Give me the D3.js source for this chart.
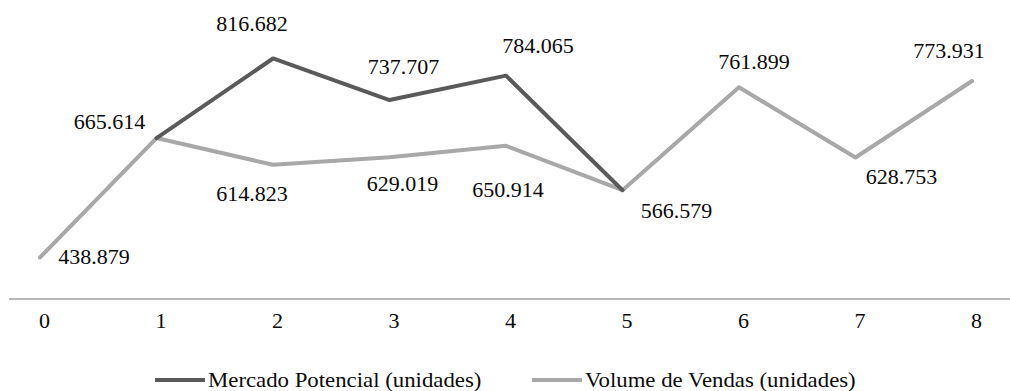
<!DOCTYPE html>
<html>
<head>
<meta charset="utf-8">
<script src="https://cdn.jsdelivr.net/npm/d3@7/dist/d3.min.js"></script>
<style>
  html, body { margin: 0; padding: 0; background: #fff; }
  svg { display: block; }
  text { font-family: "Liberation Serif", "Times New Roman", serif; fill: #0a0a0a; }
</style>
</head>
<body>
<svg id="chart" width="1010" height="391"></svg>
<script>
// Periods on the x axis
const categories = ["0", "1", "2", "3", "4", "5", "6", "7", "8"];

// Series values (units); null where a series has no value
const mercadoPotencial = [null, 665614, 816682, 737707, 784065, 566579, null, null, null];
const volumeVendas = [438879, 665614, 614823, 629019, 650914, 566579, 761899, 628753, 773931];

const seriesNames = ["Mercado Potencial (unidades)", "Volume de Vendas (unidades)"];

// Label offsets from each point (dx, dy of the label centre); null = no label
const mercadoLabelOffsets = [null, null, [-21, -34], [14, -33], [32, -30], null, null, null, null];
const volumeLabelOffsets = [[54, 0], [-47, -16], [-21, 29], [13, 27], [2, 44], [54, 21], [15, -25], [46, 20], [-23, -30]];

const W = 1010, H = 391;
const svg = d3.select("#chart");

// Brazilian number formatting: "." as thousands separator
const ptBR = d3.formatLocale({ decimal: ",", thousands: ".", grouping: [3], currency: ["R$", ""] });
const fmt = ptBR.format(",d");

const TEXT_SCALE_X = 1.1;
const LEGEND_SCALE_X = 1.14;
const FONT_SIZE = 20;

const x = d3.scalePoint().domain(categories).range([40, 972]);
const y = d3.scaleLinear().domain([360000, 900000]).range([299, 14.6]);

// Category axis
const axisG = svg.append("g").attr("transform", "translate(0,299)");
axisG.append("line")
  .attr("x1", 9).attr("x2", W)
  .attr("y1", 0).attr("y2", 0)
  .attr("stroke", "#a0a0a0").attr("stroke-width", 1.5);

const axis = d3.axisBottom(x).tickSize(0).tickPadding(0);
const axisInner = axisG.append("g").call(axis);
axisInner.select(".domain").remove();
axisInner.selectAll(".tick text")
  .attr("y", 29)
  .attr("dy", null)
  .attr("font-size", FONT_SIZE)
  .attr("font-family", "Liberation Serif, serif")
  .attr("fill", "#0a0a0a")
  .attr("transform", "translate(4,0) scale(" + TEXT_SCALE_X + ",1)");

// Lines
const line = d3.line()
  .defined(d => d != null)
  .x((d, i) => x(categories[i]))
  .y(d => y(d));

const series = [
  { name: seriesNames[0], values: mercadoPotencial, offsets: mercadoLabelOffsets, color: "#5a5a5a" },
  { name: seriesNames[1], values: volumeVendas, offsets: volumeLabelOffsets, color: "#a8a8a8" }
];

// light series underneath, dark series on top
[series[1], series[0]].forEach(s => {
  svg.append("path")
    .datum(s.values)
    .attr("d", line)
    .attr("fill", "none")
    .attr("stroke", s.color)
    .attr("stroke-width", 4)
    .attr("stroke-linejoin", "round")
    .attr("stroke-linecap", "round");
});

// Data labels
series.forEach(s => {
  s.values.forEach((v, i) => {
    const off = s.offsets[i];
    if (v == null || off == null) return;
    const cx = x(categories[i]) + off[0];
    const cy = y(v) + off[1];
    svg.append("g")
      .attr("transform", `translate(${cx},${cy + 7})`)
      .append("text")
      .attr("text-anchor", "middle")
      .attr("font-size", FONT_SIZE)
      .attr("transform", `scale(${TEXT_SCALE_X},1)`)
      .text(fmt(v));
  });
});

// Legend
const legendItems = [
  { name: seriesNames[0], color: series[0].color, x0: 155 },
  { name: seriesNames[1], color: series[1].color, x0: 532 }
];
legendItems.forEach(it => {
  const g = svg.append("g").attr("transform", `translate(${it.x0},380)`);
  g.append("line")
    .attr("x1", 0).attr("x2", 50)
    .attr("y1", 0).attr("y2", 0)
    .attr("stroke", it.color).attr("stroke-width", 4);
  g.append("g").attr("transform", "translate(53,6.5)")
    .append("text")
    .attr("font-size", FONT_SIZE)
    .attr("transform", `scale(${LEGEND_SCALE_X},1)`)
    .text(it.name);
});
</script>
</body>
</html>
